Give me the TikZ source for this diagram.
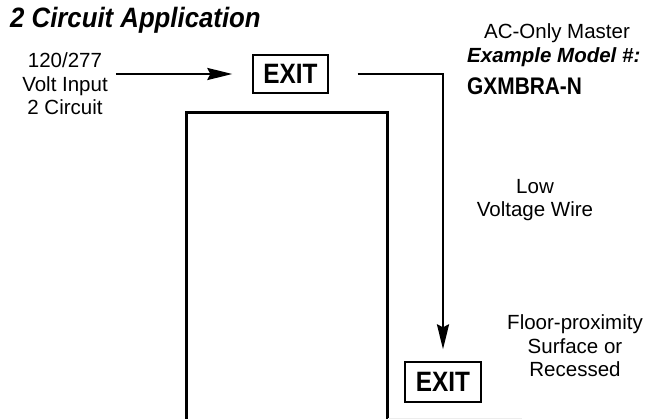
\documentclass[tikz,border=0pt]{standalone}
\usepackage{fontspec}
\setmainfont{Liberation Sans}
\newfontfamily\exitfont[FakeStretch=0.87]{Liberation Sans}
\newfontfamily\condfont[FakeStretch=0.87]{Liberation Sans}
\newfontfamily\headfont[FakeStretch=0.92]{Liberation Sans}
\usetikzlibrary{arrows.meta, positioning}
\tikzstyle{textblock} = [inner sep=0pt, align=center, font=\fontsize{20.5pt}{23.5pt}\selectfont]
\tikzstyle{sign} = [rectangle, draw=black, line width=1.3pt, inner sep=0pt, font=\exitfont\bfseries\fontsize{28pt}{28pt}\selectfont]
\tikzstyle{wire} = [line width=2.5pt, -{Stealth[length=25pt, width=12pt, inset=3pt]}]
\tikzstyle{door} = [line width=3pt]

\begin{document}
\begin{tikzpicture}[x=1pt, y=-1pt]
    \useasboundingbox (0,0) rectangle (655,419);
    % Title
    \node (title) [inner sep=0pt, anchor=base west, font=\headfont\bfseries\itshape\fontsize{28pt}{28pt}\selectfont] at (10,28) {2 Circuit Application};

    % Input
    \node (input) [textblock] at (65,84) {120/277\\Volt Input\\2 Circuit};

    % Signs
    \node (master) [sign, minimum width=75pt, minimum height=38pt] at (290.5,74) {EXIT};
    \node (floor) [sign, minimum width=76pt, minimum height=40pt] at (443,382) {EXIT};

    % Text on the right
    \node (acmaster) [textblock] at (557,33) {AC-Only Master};
    \node (example) [textblock, anchor=west, font=\bfseries\itshape\fontsize{20.5pt}{23.5pt}\selectfont] at (467,57) {Example Model \#:};
    \node (model) [textblock, anchor=west, font=\condfont\bfseries\fontsize{24pt}{24pt}\selectfont] at (467,86.5) {GXMBRA-N};
    \node (lowvolt) [textblock] at (535,200) {Low\\Voltage Wire};
    \node (floortext) [textblock] at (575,346) {Floor-proximity\\Surface or\\Recessed};

    % Door
    \draw [door] (186,419) |- (387,113) -- (387,419);
    \draw [black!7, line width=1pt] (388,418) -- (522,418);

    % Wires
    \draw [wire] ([xshift=8pt]input.east |- master.west) -- ([xshift=-20pt]master.west);
    \draw [wire] ([xshift=29pt]master.east) -| ([yshift=12pt]floor.north);
\end{tikzpicture}
\end{document}
